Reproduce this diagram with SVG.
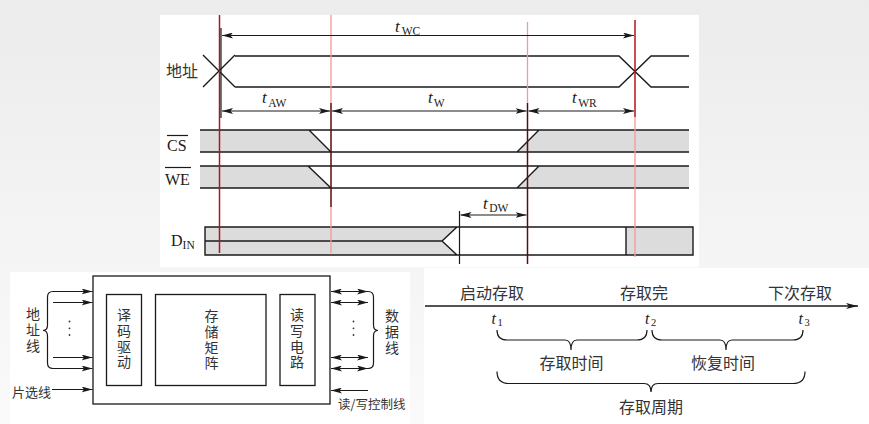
<svg xmlns="http://www.w3.org/2000/svg" width="869" height="424" viewBox="0 0 869 424">
<defs>
<linearGradient id="bg" x1="0" y1="0" x2="0" y2="1">
<stop offset="0" stop-color="#ececec"/>
<stop offset="1" stop-color="#fafafa"/>
</linearGradient>
<marker id="ah" viewBox="0 0 11 6" refX="11" refY="3" markerWidth="11" markerHeight="6" markerUnits="userSpaceOnUse" orient="auto-start-reverse">
<path d="M0,0 L11,3 L0,6 L2.5,3 z" fill="#1a1a1a"/>
</marker>
<marker id="ah2" viewBox="0 0 12 6" refX="12" refY="3" markerWidth="12" markerHeight="6" markerUnits="userSpaceOnUse" orient="auto-start-reverse">
<path d="M0,0 L12,3 L0,6 L3,3 z" fill="#1a1a1a"/>
</marker>
</defs>
<style>
.ln{stroke:#1a1a1a;stroke-width:1.4;fill:none}
.thin{stroke:#1a1a1a;stroke-width:1.2;fill:none}
.dim{stroke:#1a1a1a;stroke-width:1.1;fill:none;marker-start:url(#ah);marker-end:url(#ah)}
.one{stroke:#1a1a1a;stroke-width:1.1;fill:none;marker-end:url(#ah)}
.gray{fill:#dcdcdc;stroke:none}
.box{fill:none;stroke:#1a1a1a;stroke-width:1.3}
.rd{stroke:#b3151b;stroke-width:1.5}
.rl{stroke:#f29a9a;stroke-width:1.3}
.rk{stroke:#5a0d0d;stroke-width:1.5}
.ser{font-family:"Liberation Serif","Times New Roman",serif;fill:#1a1a1a}
.it{font-style:italic}
.cn{font-family:"Noto Sans CJK SC","Noto Sans CJK JP",sans-serif;fill:#333}
.vt{writing-mode:vertical-rl;text-orientation:upright}
.brace{stroke:#1a1a1a;stroke-width:1.2;fill:none}
</style>
<rect width="869" height="424" fill="url(#bg)"/>
<rect x="160" y="15" width="539" height="252" fill="#ffffff"/>
<rect x="10" y="272" width="400" height="152" fill="#ffffff"/>
<rect x="424" y="268" width="445" height="156" fill="#ffffff"/>

<!-- Timing diagram -->
<g id="addr">
<path class="ln" d="M203,55 L235,87 M203,87 L235,55 M235,56 L619,56 L651,87 L689,87 M235,87 L619,87 L651,56 L689,56"/>
<text class="cn" x="166" y="77" font-size="16">地址</text>
</g>
<g id="cs">
<polygon class="gray" points="200,130 309,130 331,152 200,152"/>
<polygon class="gray" points="539,130 689,130 689,152 517,152"/>
<path class="ln" d="M200,130 L689,130 M200,152 L689,152 M309,130 L331,152 M517,152 L539,130"/>
<text class="ser" x="167" y="151" font-size="16">CS</text>
<line class="thin" x1="167" y1="135.5" x2="188" y2="135.5"/>
</g>
<g id="we">
<polygon class="gray" points="200,166 308,166 331,188 200,188"/>
<polygon class="gray" points="539,166 689,166 689,188 517,188"/>
<path class="ln" d="M200,166 L689,166 M200,188 L689,188 M308,166 L331,188 M517,188 L539,166"/>
<text class="ser" x="165" y="185" font-size="16">WE</text>
<line class="thin" x1="165" y1="167.5" x2="191" y2="167.5"/>
</g>
<g id="din">
<polygon class="gray" points="205,227 457,227 442,241 457,255 205,255"/>
<rect class="gray" x="626" y="227" width="67" height="28"/>
<path class="ln" d="M205,227 L693,227 L693,255 L205,255 Z M205,241 L442,241 L457,227 M442,241 L457,255 M626,227 L626,255"/>
<text class="ser" x="171" y="246" font-size="16">D<tspan font-size="11.5" dy="2.5">IN</tspan></text>
</g>

<g id="markers">
<line class="rd" x1="219.5" y1="15" x2="219.5" y2="253"/>
<line class="thin" x1="221" y1="28" x2="221" y2="118"/>
<line class="rl" x1="331" y1="15" x2="331" y2="103"/>
<line class="rk" x1="331" y1="103" x2="331" y2="207"/>
<line class="rl" x1="331" y1="207" x2="331" y2="253"/>
<line class="rl" x1="527.5" y1="22" x2="527.5" y2="103"/>
<line class="rk" x1="527.5" y1="103" x2="527.5" y2="264"/>
<line class="rd" x1="635" y1="20" x2="635" y2="117"/>
<line class="rl" x1="635" y1="117" x2="635" y2="257"/>
<line class="thin" x1="459.5" y1="211" x2="459.5" y2="264"/>
</g>

<g id="connectors">
<line class="dim" x1="222" y1="35.5" x2="634" y2="35.5"/>
<line class="dim" x1="222" y1="111" x2="330" y2="111"/>
<line class="dim" x1="332" y1="111" x2="526.5" y2="111"/>
<line class="dim" x1="528.5" y1="111" x2="634" y2="111"/>
<line class="dim" x1="460.5" y1="215" x2="526.5" y2="215"/>
<line class="one" x1="53" y1="291.5" x2="92.5" y2="291.5"/>
<line class="one" x1="53" y1="302.5" x2="92.5" y2="302.5"/>
<line class="one" x1="53" y1="357.5" x2="92.5" y2="357.5"/>
<line class="one" x1="53" y1="368.5" x2="92.5" y2="368.5"/>
<line class="one" x1="52" y1="389.5" x2="92.5" y2="389.5"/>
<line class="dim" x1="331" y1="291.5" x2="368" y2="291.5"/>
<line class="dim" x1="331" y1="302.5" x2="368" y2="302.5"/>
<line class="dim" x1="331" y1="357.5" x2="368" y2="357.5"/>
<line class="dim" x1="331" y1="368.5" x2="368" y2="368.5"/>
<line class="one" x1="368" y1="390.5" x2="331" y2="390.5"/>
<line x1="425" y1="306" x2="858" y2="306" stroke="#1a1a1a" stroke-width="1.5" marker-end="url(#ah2)"/>
</g>

<g id="timing-labels">
<text class="ser" x="395" y="32" font-size="17"><tspan class="it">t</tspan><tspan font-size="11.5" dx="2" dy="3">WC</tspan></text>
<text class="ser" x="262" y="103" font-size="17"><tspan class="it">t</tspan><tspan font-size="11.5" dx="1.5" dy="3.5">AW</tspan></text>
<text class="ser" x="428" y="103" font-size="17"><tspan class="it">t</tspan><tspan font-size="11.5" dx="1" dy="3.5">W</tspan></text>
<text class="ser" x="572" y="103" font-size="17"><tspan class="it">t</tspan><tspan font-size="11.5" dx="1.5" dy="3.5">WR</tspan></text>
<text class="ser" x="483" y="209" font-size="17"><tspan class="it">t</tspan><tspan font-size="11.5" dx="1.5" dy="3">DW</tspan></text>
</g>

<!-- Block diagram -->
<g id="chip">
<rect class="box" x="93" y="276" width="237" height="128"/>
</g>
<g id="decoder">
<rect class="box" x="106.5" y="294.5" width="35" height="91"/>
<text class="cn vt" x="124" y="308" font-size="14" letter-spacing="1.6">译码驱动</text>
</g>
<g id="matrix">
<rect class="box" x="155.5" y="294.5" width="110.5" height="91"/>
<text class="cn vt" x="211.5" y="309" font-size="14" letter-spacing="1.6">存储矩阵</text>
</g>
<g id="rw">
<rect class="box" x="280" y="294.5" width="35" height="91"/>
<text class="cn vt" x="297" y="308" font-size="14" letter-spacing="1.6">读写电路</text>
</g>
<g id="addr-lines">
<path class="brace" d="M53,291.5 Q47.5,291.5 47.5,297 L47.5,325 Q47.5,330.5 43,330.5 Q47.5,330.5 47.5,336 L47.5,363 Q47.5,368.5 53,368.5"/>
<circle cx="69.5" cy="321.5" r="0.9" fill="#333"/>
<circle cx="69.5" cy="328.3" r="0.9" fill="#333"/>
<circle cx="69.5" cy="335" r="0.9" fill="#333"/>
<text class="cn vt" x="33" y="307" font-size="14" letter-spacing="2">地址线</text>
</g>
<g id="cs-line">
<text class="cn" x="12" y="396.5" font-size="13">片选线</text>
</g>
<g id="data-lines">
<path class="brace" d="M368,291.5 Q373.5,291.5 373.5,297 L373.5,325 Q373.5,330.5 378,330.5 Q373.5,330.5 373.5,336 L373.5,363 Q373.5,368.5 368,368.5"/>
<circle cx="353.5" cy="321.5" r="0.9" fill="#333"/>
<circle cx="353.5" cy="328.3" r="0.9" fill="#333"/>
<circle cx="353.5" cy="335" r="0.9" fill="#333"/>
<text class="cn vt" x="392" y="309" font-size="14" letter-spacing="2">数据线</text>
</g>
<g id="rw-line">
<text class="cn" x="338" y="409" font-size="12.5">读/写控制线</text>
</g>

<!-- Access cycle -->
<g id="events">
<text class="cn" x="460" y="299" font-size="16">启动存取</text>
<text class="cn" x="620" y="299" font-size="16">存取完</text>
<text class="cn" x="768" y="299" font-size="16">下次存取</text>
<text class="ser" x="491.5" y="323.5" font-size="16"><tspan class="it">t</tspan><tspan font-size="10.5" dx="1.5" dy="2">1</tspan></text>
<text class="ser" x="645" y="323.5" font-size="16"><tspan class="it">t</tspan><tspan font-size="10.5" dx="1.5" dy="2">2</tspan></text>
<text class="ser" x="798.5" y="323.5" font-size="16"><tspan class="it">t</tspan><tspan font-size="10.5" dx="1.5" dy="2">3</tspan></text>
</g>
<g id="access-time">
<path class="brace" d="M497,330 Q497,340 507,340 L565,340 Q571,340 571,350 Q571,340 577,340 L637,340 Q647,340 647,330"/>
<text class="cn" x="571.5" y="368.5" font-size="16" text-anchor="middle">存取时间</text>
</g>
<g id="recovery-time">
<path class="brace" d="M652,330 Q652,340 662,340 L720,340 Q726,340 726,350 Q726,340 732,340 L793,340 Q803,340 803,330"/>
<text class="cn" x="723" y="368.5" font-size="16" text-anchor="middle">恢复时间</text>
</g>
<g id="cycle">
<path class="brace" d="M497,371.5 Q497,383.5 509,383.5 L644,383.5 Q651,383.5 651,392 Q651,383.5 658,383.5 L793,383.5 Q805,383.5 805,371.5"/>
<text class="cn" x="651" y="412.5" font-size="16" text-anchor="middle">存取周期</text>
</g>
</svg>
